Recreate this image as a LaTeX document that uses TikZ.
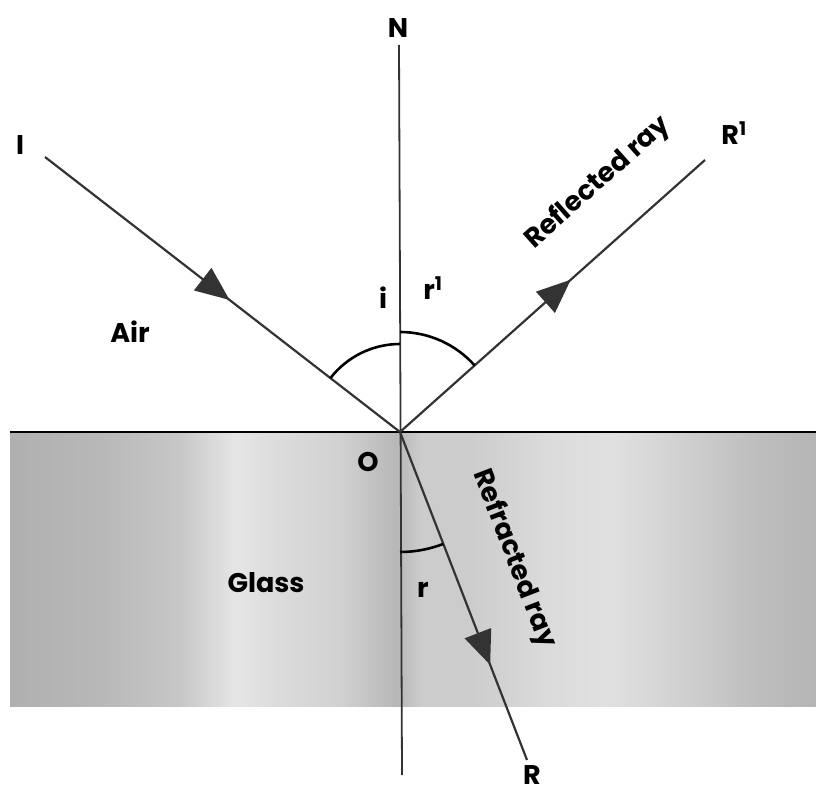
\documentclass[tikz,border=0pt]{standalone}
\usepackage{fontspec}
\setmainfont{Poppins}
\usetikzlibrary{arrows.meta,decorations.markings}
\pgfdeclarehorizontalshading{glass}{100bp}{%
rgb(0bp)=(0.69,0.69,0.69);
rgb(25bp)=(0.69,0.69,0.69);
rgb(30.5bp)=(0.72,0.72,0.72);
rgb(35.5bp)=(0.78,0.78,0.78);
rgb(39bp)=(0.90,0.90,0.90);
rgb(41.75bp)=(0.86,0.86,0.86);
rgb(45.5bp)=(0.82,0.82,0.82);
rgb(48.25bp)=(0.74,0.74,0.74);
rgb(49bp)=(0.72,0.72,0.72);
rgb(50.5bp)=(0.80,0.80,0.80);
rgb(53.5bp)=(0.80,0.80,0.80);
rgb(58.5bp)=(0.86,0.86,0.86);
rgb(62.2bp)=(0.88,0.88,0.88);
rgb(66.5bp)=(0.82,0.82,0.82);
rgb(71.5bp)=(0.74,0.74,0.74);
rgb(75bp)=(0.71,0.71,0.71);
rgb(100bp)=(0.71,0.71,0.71)}
\tikzset{
  ray/.style={draw=black!80, line width=2.2pt},
  angarc/.style={draw=black, line width=2.6pt},
  lbl/.style={font=\bfseries\fontsize{27}{29}\selectfont, inner sep=0pt},
  midarrow/.style={postaction={decorate, decoration={markings,
      mark=at position #1 with {\arrow{Triangle[length=34pt,width=28pt]}}}}}
}
\begin{document}
\begin{tikzpicture}[x=1pt,y=1pt]
\useasboundingbox (0,0) rectangle (816,793);
% glass slab
\shade[shading=glass] (10,87) rectangle (816,361);
\draw[line width=1.8pt, black] (10,361) -- (816,361);
% points
\coordinate (O) at (400,361);
\coordinate (Ntop) at (399,748);
\coordinate (Nbot) at (402,18);
\coordinate (Ipt) at (45,636);
\coordinate (R1pt) at (705,633);
\coordinate (Rpt) at (527,33);
% normal
\draw[ray, line width=1.8pt] (Ntop) -- (Nbot);
% rays
\draw[ray, midarrow=0.52] (Ipt) -- (O);
\draw[ray, midarrow=0.56] (O) -- (R1pt);
\draw[ray, midarrow=0.71] (O) -- (Rpt);
% angle arcs
\draw[angarc] ([shift={(142.2:88)}]O) arc[start angle=142.2, end angle=90, radius=88];
\draw[angarc] ([shift={(90:100)}]O) arc[start angle=90, end angle=41.7, radius=100];
\draw[angarc] ([shift={(-90:120)}]O) arc[start angle=-90, end angle=-68.8, radius=120];
% labels
\node[lbl] (N) at (398,765) {N};
\node[lbl] (I) at (20,648) {I};
\node[lbl] (R1) at (734,660) {R\textsuperscript{1}};
\node[lbl] (R) at (532,18) {R};
\node[lbl] (O-l) at (368,331) {O};
\node[lbl] (air) at (130,461) {Air};
\node[lbl] (glass) at (266,210) {Glass};
\node[lbl] (ang-i) at (383,495) {i};
\node[lbl] (ang-r1) at (433,505) {r\textsuperscript{1}};
\node[lbl] (ang-r) at (423,203) {r};
\node[lbl, rotate=41.7] (refl) at (598,610) {Reflected ray};
\node[lbl, rotate=-68.8] (refr) at (514,234) {Refracted ray};
\end{tikzpicture}
\end{document}
